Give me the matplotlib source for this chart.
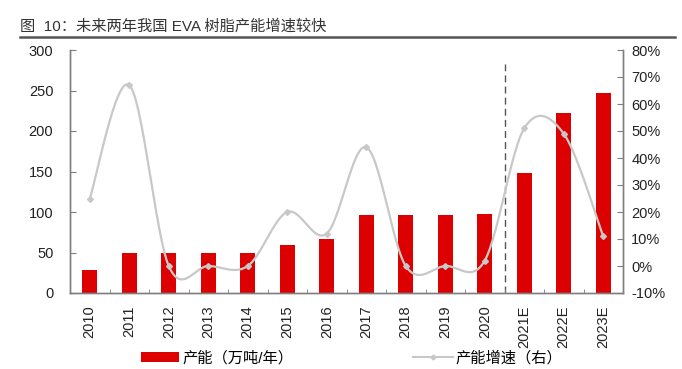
import numpy as np
import matplotlib
matplotlib.use('Agg')
import matplotlib.pyplot as plt
from matplotlib.lines import Line2D
from matplotlib.patches import Patch
from matplotlib.ticker import FuncFormatter, FixedLocator

plt.rcParams['font.family'] = ['Liberation Sans', 'Noto Sans CJK SC', 'DejaVu Sans']
plt.rcParams['font.size'] = 10

years = ['2010', '2011', '2012', '2013', '2014', '2015', '2016', '2017',
         '2018', '2019', '2020', '2021E', '2022E', '2023E']
capacity = [29, 50, 50, 50, 50, 59, 67, 96, 96, 96, 98, 148, 222, 247]
growth = [25, 67, 0, 0, 0, 20, 12, 44, 0, 0, 2, 51, 49, 11]   # %

title = '图  10：未来两年我国 EVA 树脂产能增速较快'
bar_label = '产能（万吨/年）'
line_label = '产能增速（右）'

BAR_RED = '#DD0000'
LINE_GRAY = '#C8C8C8'
AXIS_GRAY = '#7F7F7F'
TEXT = '#222222'


def smooth_curve(x, y, steps=30):
    """Excel-style smoothed line: cubic Bezier with 1/6 tangent control points."""
    x = np.asarray(x, float)
    y = np.asarray(y, float)
    n = len(x)
    xs, ys = [], []
    for i in range(n - 1):
        p0 = np.array([x[max(i - 1, 0)], y[max(i - 1, 0)]])
        p1 = np.array([x[i], y[i]])
        p2 = np.array([x[i + 1], y[i + 1]])
        p3 = np.array([x[min(i + 2, n - 1)], y[min(i + 2, n - 1)]])
        c1 = p1 + (p2 - p0) / 6
        c2 = p2 - (p3 - p1) / 6
        t = np.linspace(0, 1, steps)[:, None]
        pts = ((1 - t) ** 3) * p1 + 3 * ((1 - t) ** 2) * t * c1 + 3 * (1 - t) * t ** 2 * c2 + t ** 3 * p2
        xs.extend(pts[:, 0])
        ys.extend(pts[:, 1])
    return np.array(xs), np.array(ys)


fig = plt.figure(figsize=(6.82, 3.69), dpi=100)
ax = fig.add_axes([70 / 682, 1 - 293 / 369, 553 / 682, 243 / 369])
ax2 = ax.twinx()

x = np.arange(len(years))

# Bars: capacity (left axis)
ax.bar(x, capacity, width=0.38, color=BAR_RED, zorder=2)
ax.set_ylim(0, 300)
ax.set_xlim(-0.5, len(years) - 0.5)
ax.set_yticks([0, 50, 100, 150, 200, 250, 300])

# Forecast separator
ax.axvline(10.5, ymin=0, ymax=(293 - 64) / 243, color='#555555',
           linestyle=(0, (5, 3)), linewidth=1.0, zorder=1)

# Growth line (right axis)
sx, sy = smooth_curve(x, growth)
ax2.plot(sx, sy, color=LINE_GRAY, linewidth=1.6, zorder=3)
ax2.plot(x, growth, linestyle='none', marker='D', markersize=3,
         color=LINE_GRAY, zorder=4)
ax2.set_ylim(-10, 80)
ax2.set_yticks(np.arange(-10, 81, 10))
ax2.yaxis.set_major_formatter(FuncFormatter(lambda v, _: f'{v:.0f}%'))

# Ticks & spines
ax.set_xticks(x)
ax.set_xticklabels(years, rotation=90)
ax.xaxis.set_minor_locator(FixedLocator(np.arange(0.5, len(years) - 1, 1.0)))
ax.tick_params(axis='x', which='major', length=0, pad=9, labelsize=10.5, colors=TEXT)
ax.tick_params(axis='x', which='minor', direction='in', length=3, color=AXIS_GRAY)
ax.tick_params(axis='y', direction='in', length=4, color=AXIS_GRAY, labelsize=10.5,
               labelcolor=TEXT, pad=12)
ax2.tick_params(axis='y', direction='in', length=4, color=AXIS_GRAY, labelsize=10.5,
                labelcolor=TEXT, pad=6)

for a in (ax, ax2):
    a.spines['top'].set_visible(False)
    for s in ('left', 'right', 'bottom'):
        a.spines[s].set_color(AXIS_GRAY)
        a.spines[s].set_linewidth(1.0)

# Title with rule underneath
fig.text(20 / 682, 1 - 26 / 369, title, fontsize=11, color='#333333',
         ha='left', va='center')
fig.add_artist(Line2D([20 / 682, 675 / 682], [1 - 37 / 369, 1 - 37 / 369],
                      transform=fig.transFigure, color='#555555', linewidth=1.8))

# Legends
fig.legend(handles=[Patch(facecolor=BAR_RED, label=bar_label)],
           loc='center left', bbox_to_anchor=(141 / 682, 1 - 358 / 369),
           frameon=False, handlelength=2.5, handleheight=0.6,
           handletextpad=0.2, borderpad=0, borderaxespad=0, fontsize=11)
fig.legend(handles=[Line2D([], [], color=LINE_GRAY, linewidth=1.5, marker='D',
                           markersize=2.5, label=line_label)],
           loc='center left', bbox_to_anchor=(413 / 682, 1 - 358 / 369),
           frameon=False, handlelength=2.6, handletextpad=0.2, borderpad=0,
           borderaxespad=0, fontsize=11)

fig.savefig('out.png', dpi=100, facecolor='white')
